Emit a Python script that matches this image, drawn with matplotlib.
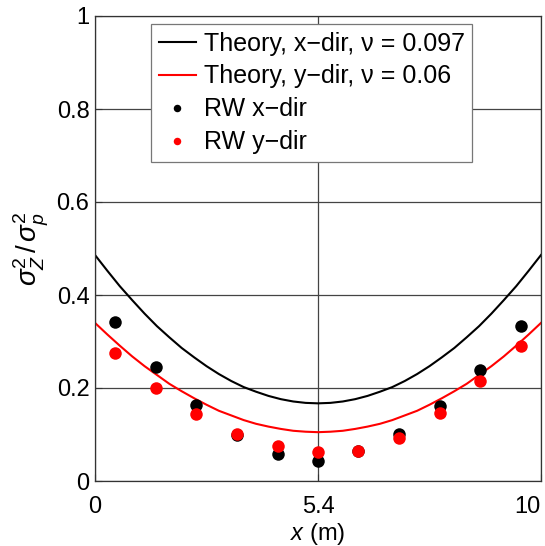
import matplotlib.pyplot as plt
import numpy as np

plt.rcParams['font.family'] = ['Liberation Sans', 'DejaVu Sans']
plt.rcParams['mathtext.fontset'] = 'custom'
plt.rcParams['mathtext.rm'] = 'Liberation Sans'
plt.rcParams['mathtext.it'] = 'Liberation Sans:italic'

# random walk samples (11 cells across the 10.8 m domain)
rw_x = [0.49, 1.47, 2.45, 3.44, 4.42, 5.40, 6.38, 7.36, 8.35, 9.33, 10.31]
rw_xdir = [0.343, 0.246, 0.163, 0.099, 0.058, 0.044, 0.065, 0.102, 0.161, 0.239, 0.334]
rw_ydir = [0.275, 0.201, 0.144, 0.102, 0.075, 0.063, 0.065, 0.092, 0.146, 0.215, 0.291]

# theory curves
th_x = [0.0, 0.3, 0.6, 0.9, 1.2, 1.5, 1.8, 2.1, 2.4, 2.7, 3.0, 3.3, 3.6,
        3.9, 4.2, 4.5, 4.8, 5.1, 5.4, 5.7, 6.0, 6.3, 6.6, 6.9, 7.2, 7.5,
        7.8, 8.1, 8.4, 8.7, 9.0, 9.3, 9.6, 9.9, 10.2, 10.5, 10.8]
th_xdir = [0.486, 0.452, 0.419, 0.389, 0.360, 0.333, 0.309, 0.286, 0.266, 0.247,
           0.230, 0.215, 0.202, 0.192, 0.183, 0.176, 0.171, 0.168, 0.167,
           0.168, 0.171, 0.176, 0.183, 0.192, 0.202, 0.215, 0.230, 0.247,
           0.266, 0.286, 0.309, 0.333, 0.360, 0.389, 0.419, 0.452, 0.486]
th_ydir = [0.340, 0.315, 0.291, 0.268, 0.247, 0.228, 0.209, 0.193, 0.178, 0.164,
           0.151, 0.141, 0.131, 0.123, 0.117, 0.112, 0.108, 0.106, 0.105,
           0.106, 0.108, 0.112, 0.117, 0.123, 0.131, 0.141, 0.151, 0.164,
           0.178, 0.193, 0.209, 0.228, 0.247, 0.268, 0.291, 0.315, 0.340]

xticks = [0, 5.4, 10.8]
xtick_labels = ['0', '5.4', '10']
yticks = [0, 0.2, 0.4, 0.6, 0.8, 1]
ytick_labels = ['0', '0.2', '0.4', '0.6', '0.8', '1']

fig = plt.figure(figsize=(5.45, 5.46), dpi=100)
ax = fig.add_axes([95/545, 65/546, 446/545, 465/546])

ax.plot(th_x, th_xdir, '-', color='black', lw=1.5,
        label='Theory, x\u2212dir, \u03bd = 0.097')
ax.plot(th_x, th_ydir, '-', color='red', lw=1.5,
        label='Theory, y\u2212dir, \u03bd = 0.06')
ax.plot(rw_x, rw_xdir, 'o', color='black', ms=9, mec='none', label='RW x\u2212dir')
ax.plot(rw_x, rw_ydir, 'o', color='red', ms=9, mec='none', label='RW y\u2212dir')

ax.set_xlim(0, 10.8)
ax.set_ylim(0, 1)
ax.set_xticks(xticks)
ax.set_xticklabels(xtick_labels)
ax.get_xticklabels()[-1].set_horizontalalignment('right')
ax.set_yticks(yticks)
ax.set_yticklabels(ytick_labels)
ax.tick_params(direction='in', length=5, width=0.8, color='#333333', labelsize=17)
ax.tick_params(axis='y', pad=4)
ax.tick_params(axis='x', pad=11)
ax.grid(True, color='#444444', lw=0.9)
for s in ax.spines.values():
    s.set_color('#333333')
    s.set_linewidth(0.9)

ax.set_xlabel('$x$ (m)', fontsize=17, labelpad=2)
ax.set_ylabel(r'$\sigma_Z^2\,/\,\sigma_p^2$', fontsize=20, labelpad=4)

leg = ax.legend(loc='upper left', bbox_to_anchor=(56/446, 1 - 8/465), fontsize=18,
                markerscale=0.6, handlelength=1.5, handletextpad=0.3,
                labelspacing=0.36, borderpad=0.3, borderaxespad=0,
                fancybox=False, framealpha=1)
leg.get_frame().set_edgecolor('#777777')
leg.get_frame().set_linewidth(0.9)

fig.savefig('out.png', dpi=100)
